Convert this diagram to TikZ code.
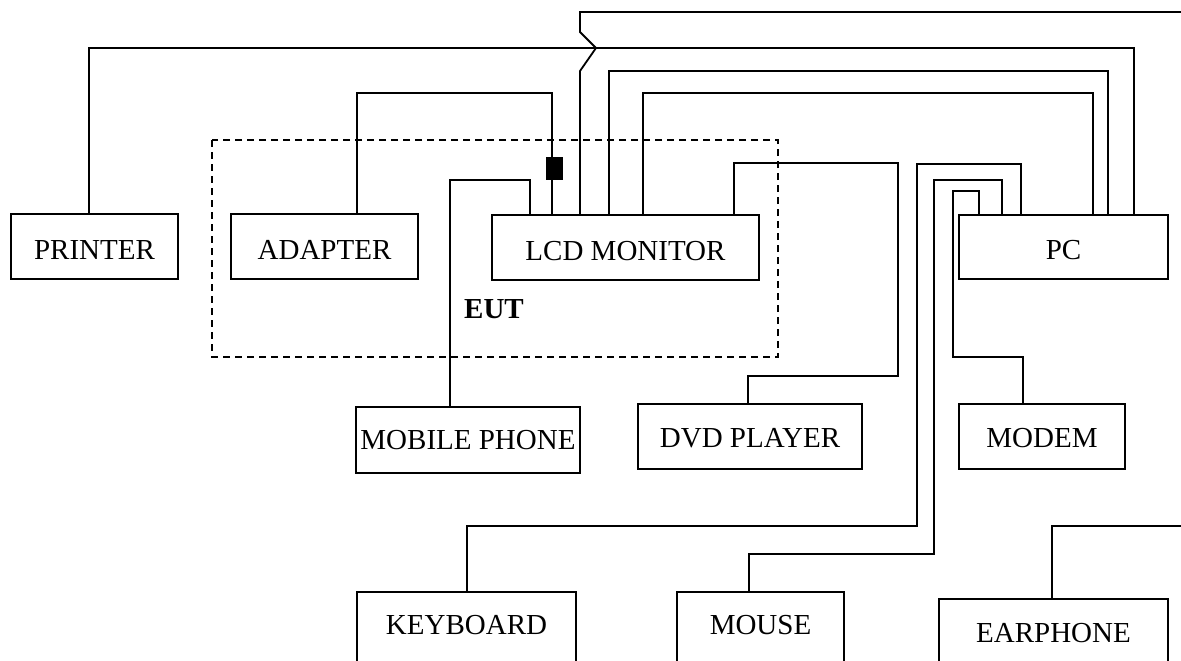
\documentclass[tikz,border=0pt]{standalone}
\usepackage{fontspec}
\setmainfont{Liberation Serif}
\begin{document}
\begin{tikzpicture}[x=1pt,y=-1pt,
  box/.style={draw,line width=1.6pt,rectangle,inner sep=0pt,outer sep=0pt,font=\fontsize{29}{34}\selectfont},
  lowtext/.style={text height=25pt,text depth=0pt},
  midtext/.style={text height=22pt,text depth=0pt},
  hightext/.style={text height=19pt,text depth=14pt},
  wire/.style={line width=1.8pt},
  eutframe/.style={line width=1.3pt,dash pattern=on 7pt off 5pt}]
\useasboundingbox (0,0) rectangle (1181,661);
\clip (0,0) rectangle (1181,661);
% devices
\node[box,lowtext,minimum width=167pt,minimum height=65pt] (printer) at (94.5,246.5) {PRINTER};
\node[box,lowtext,minimum width=187pt,minimum height=65pt] (adapter) at (324.5,246.5) {ADAPTER};
\node[box,lowtext,minimum width=267pt,minimum height=65pt] (lcd) at (625.5,247.5) {LCD MONITOR};
\node[box,lowtext,minimum width=209pt,minimum height=64pt] (pc) at (1063.5,247) {PC};
\node[box,minimum width=224pt,minimum height=66pt] (mobile) at (468,440) {MOBILE PHONE};
\node[box,midtext,minimum width=224pt,minimum height=65pt] (dvd) at (750,436.5) {DVD PLAYER};
\node[box,midtext,minimum width=166pt,minimum height=65pt] (modem) at (1042,436.5) {MODEM};
\node[box,hightext,minimum width=219pt,minimum height=80pt] (kbd) at (466.5,632) {KEYBOARD};
\node[box,hightext,minimum width=167pt,minimum height=80pt] (mouse) at (760.5,632) {MOUSE};
\node[box,text height=19pt,text depth=12pt,minimum width=229pt,minimum height=80pt] (earphone) at (1053.5,639) {EARPHONE};
% EUT frame
\draw[eutframe] (212,140) rectangle (778,357);
\node[font=\fontsize{29}{34}\selectfont\bfseries] (eut) at (494,309) {EUT};
% free ends (cables leaving the picture)
\coordinate (topend) at (1190,12);
\coordinate (earend) at (1190,526);
% cables
\draw[wire] ([xshift=78pt]printer.north west) |- (1134,48) -- ([xshift=175pt]pc.north west);
\draw[wire] ([xshift=88pt]lcd.north west) -- (580,71) -- (596,48) -- (580,32) |- (topend);
\draw[wire] ([xshift=117pt]lcd.north west) |- (1108,71) -- ([xshift=149pt]pc.north west);
\draw[wire] ([xshift=151pt]lcd.north west) |- (1093,93) -- ([xshift=134pt]pc.north west);
\draw[wire] ([xshift=60pt]lcd.north west) |- (357,93) -- ([xshift=126pt]adapter.north west);
\node[fill=black,draw=none,inner sep=0pt,minimum width=17pt,minimum height=23pt] (core) at (554.5,168.5) {};
\draw[wire] ([xshift=94pt]mobile.north west) |- (530,180) -- ([xshift=38pt]lcd.north west);
\draw[wire] ([xshift=242pt]lcd.north west) |- (898,163) |- (748,376) -- ([xshift=110pt]dvd.north west);
\draw[wire] ([xshift=110pt]kbd.north west) |- (917,526) |- (1021,164) -- ([xshift=62pt]pc.north west);
\draw[wire] ([xshift=72pt]mouse.north west) |- (934,554) |- (1002,180) -- ([xshift=43pt]pc.north west);
\draw[wire] ([xshift=64pt]modem.north west) |- (953,357) |- (979,191) -- ([xshift=20pt]pc.north west);
\draw[wire] ([xshift=113pt]earphone.north west) |- (earend);
\end{tikzpicture}
\end{document}
